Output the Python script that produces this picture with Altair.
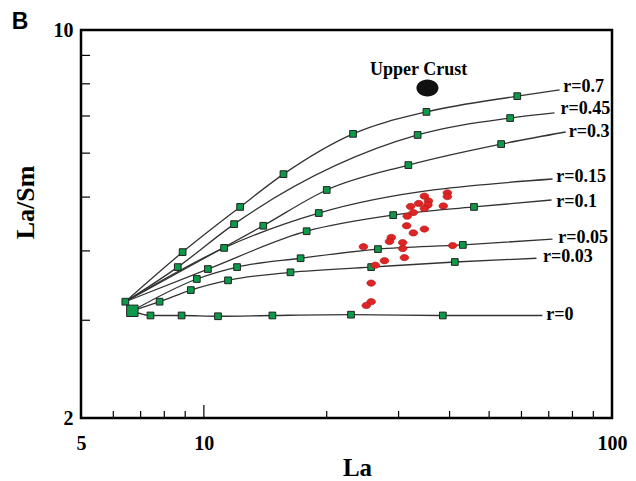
import altair as alt
import pandas as pd

# ---------------- data ----------------
curves = ["r=0.7", "r=0.45", "r=0.3", "r=0.15", "r=0.1", "r=0.05", "r=0.03", "r=0"]
start_la = [6.42, 6.42, 6.42, 6.42, 6.42, 6.68, 6.68, 6.68]
start_lasm = [3.24, 3.24, 3.24, 3.24, 3.24, 3.12, 3.12, 3.12]
end_la = [74.4, 72.3, 77.0, 71.5, 71.1, 71.5, 65.3, 67.5]
end_lasm = [7.80, 7.09, 6.55, 5.39, 4.94, 4.20, 3.88, 3.06]

sq_la_r07 = [8.87, 12.27, 15.67, 23.2, 35.1, 58.6]
sq_lasm_r07 = [3.98, 4.80, 5.50, 6.50, 7.12, 7.60]
sq_la_r045 = [8.63, 11.86, 33.4, 56.3]
sq_lasm_r045 = [3.74, 4.47, 6.47, 6.94]
sq_la_r03 = [13.98, 20.0, 31.7, 53.5]
sq_lasm_r03 = [4.44, 5.15, 5.71, 6.23]
sq_la_r015 = [11.21, 19.12]
sq_lasm_r015 = [4.05, 4.68]
sq_la_r01 = [10.23, 17.86, 29.1, 45.9]
sq_lasm_r01 = [3.71, 4.34, 4.64, 4.80]
sq_la_r005 = [9.61, 12.06, 17.26, 26.7, 43.1]
sq_lasm_r005 = [3.56, 3.74, 3.88, 4.03, 4.10]
sq_la_r003 = [7.79, 9.29, 11.46, 16.3, 25.7, 41.2]
sq_lasm_r003 = [3.24, 3.40, 3.54, 3.66, 3.74, 3.82]
sq_la_r0 = [7.40, 8.82, 10.83, 14.72, 22.94, 38.5]
sq_lasm_r0 = [3.06, 3.06, 3.05, 3.06, 3.07, 3.06]

# curve label anchors (left edge of the text)
label_la = [76.0, 74.8, 78.3, 73.0, 73.0, 73.8, 67.8, 69.0]
label_lasm = [7.90, 7.21, 6.56, 5.43, 4.90, 4.22, 3.90, 3.07]

# common starting compositions
src_small_la, src_small_lasm = 6.42, 3.24
src_big_la, src_big_lasm = 6.68, 3.12

# samples (red)
sample_la = [39.5, 39.5, 34.7, 35.5, 33.6, 35.4, 32.1, 34.7, 38.6, 32.6, 31.5, 31.4,
             34.7, 32.6, 28.8, 28.5, 30.7, 30.7, 24.6, 40.7, 31.0, 27.7, 26.3, 25.7,
             25.7, 25.0]
sample_lasm = [5.09, 5.01, 5.02, 4.92, 4.87, 4.84, 4.81, 4.77, 4.82, 4.69, 4.62, 4.44,
               4.38, 4.31, 4.23, 4.16, 4.14, 4.04, 4.07, 4.09, 3.89, 3.84, 3.77, 3.50,
               3.24, 3.19]

# upper crust
uc_la = [35.3]
uc_lasm = [7.86]
uc_text_la = [33.6]
uc_text_lasm = [8.30]

x_minor_ticks = [6, 7, 8, 9, 20, 30, 40, 50, 60, 70, 80, 90]
x_major_ticks = [10]
y_ticks = [3, 4, 5, 6, 7, 8, 9]
x_labels = [5, 10, 100]
y_labels = [2, 10]

# ---------------- tables ----------------
sq_la = [sq_la_r07, sq_la_r045, sq_la_r03, sq_la_r015, sq_la_r01, sq_la_r005, sq_la_r003, sq_la_r0]
sq_lasm = [sq_lasm_r07, sq_lasm_r045, sq_lasm_r03, sq_lasm_r015, sq_lasm_r01, sq_lasm_r005,
           sq_lasm_r003, sq_lasm_r0]

line_rows, sq_rows = [], []
for i, c in enumerate(curves):
    xs = [start_la[i]] + sq_la[i] + [end_la[i]]
    ys = [start_lasm[i]] + sq_lasm[i] + [end_lasm[i]]
    for k, (a, b) in enumerate(zip(xs, ys)):
        line_rows.append({"curve": c, "o": k, "la": a, "lasm": b})
    for a, b in zip(sq_la[i], sq_lasm[i]):
        sq_rows.append({"curve": c, "la": a, "lasm": b})
sq_rows.append({"curve": "src", "la": src_small_la, "lasm": src_small_lasm})

lines_df = pd.DataFrame(line_rows)
sq_df = pd.DataFrame(sq_rows)
big_df = pd.DataFrame({"la": [src_big_la], "lasm": [src_big_lasm]})
lab_df = pd.DataFrame({"la": label_la, "lasm": label_lasm, "t": curves})
samp_df = pd.DataFrame({"la": sample_la, "lasm": sample_lasm})
uc_df = pd.DataFrame({"la": uc_la, "lasm": uc_lasm})
uct_df = pd.DataFrame({"la": uc_text_la, "lasm": uc_text_lasm, "t": ["Upper Crust"]})

xs_ = alt.Scale(type="log", domain=[5, 100], nice=False)
ys_ = alt.Scale(type="log", domain=[2, 10], nice=False)
SERIF = "Liberation Serif"

x_axis = alt.Axis(values=x_labels, format="d", ticks=False, domain=False, grid=False,
                  labelFont=SERIF, labelFontWeight="bold", labelFontSize=20,
                  labelPadding=15, labelColor="black", labelOverlap=False,
                  labelFlush=False,
                  title="La", titleFont=SERIF, titleFontWeight="bold", titleFontSize=25,
                  titleColor="black", titleX=276, titleY=57, titleBaseline="alphabetic",
                  titleAlign="center")
y_axis = alt.Axis(values=y_labels, format="d", ticks=False, domain=False, grid=False,
                  labelFont=SERIF, labelFontWeight="bold", labelFontSize=20,
                  labelPadding=8, labelColor="black", labelOverlap=False,
                  labelFlush=False,
                  title="La/Sm", titleFont=SERIF, titleFontWeight="bold", titleFontSize=26,
                  titleColor="black", titleX=-48, titleY=172, titleBaseline="alphabetic",
                  titleAlign="center", titleAngle=270)


def X(f):
    return alt.X(f, type="quantitative", scale=xs_, axis=x_axis)


def Y(f):
    return alt.Y(f, type="quantitative", scale=ys_, axis=y_axis)


lines = alt.Chart(lines_df).mark_line(color="#333333", strokeWidth=1.3,
                                      interpolate="monotone").encode(
    x=X("la"), y=Y("lasm"), detail="curve:N", order="o:Q",
)

squares = alt.Chart(sq_df).mark_square(size=45, fill="#0c9a4a", stroke="#222222",
                                       strokeWidth=1, opacity=1).encode(
    x=X("la"), y=Y("lasm"),
)

big = alt.Chart(big_df).mark_square(size=130, fill="#0c9a4a", stroke="#222222",
                                    strokeWidth=1, opacity=1).encode(
    x=X("la"), y=Y("lasm"),
)

ELL = "M-1,0A1,0.72,0,1,1,1,0A1,0.72,0,1,1,-1,0Z"
samples = alt.Chart(samp_df).mark_point(shape=ELL, size=76, filled=True, fill="#e02424",
                                        stroke="#a81818", strokeWidth=0.6,
                                        opacity=1).encode(
    x=X("la"), y=Y("lasm"),
)

UCELL = "M-1,0A1,0.77,0,1,1,1,0A1,0.77,0,1,1,-1,0Z"
uc = alt.Chart(uc_df).mark_point(shape=UCELL, size=484, filled=True, fill="#111111",
                                  opacity=1).encode(
    x=X("la"), y=Y("lasm"),
)

uc_text = alt.Chart(uct_df).mark_text(font=SERIF, fontWeight="bold", fontSize=18,
                                      color="black", align="center",
                                      baseline="alphabetic").encode(
    x=X("la"), y=Y("lasm"), text="t:N",
)

labels = alt.Chart(lab_df).mark_text(font=SERIF, fontWeight="bold", fontSize=18,
                                     color="black", align="left",
                                     baseline="middle").encode(
    x=X("la"), y=Y("lasm"), text="t:N",
)

xminor = alt.Chart(pd.DataFrame({"la": x_minor_ticks})).mark_rule(
    color="black", strokeWidth=1.2).encode(
    x=X("la"), y=alt.value(388), y2=alt.value(381),
)
xmajor = alt.Chart(pd.DataFrame({"la": x_major_ticks})).mark_rule(
    color="black", strokeWidth=1.2).encode(
    x=X("la"), y=alt.value(388), y2=alt.value(375),
)
yt = alt.Chart(pd.DataFrame({"lasm": y_ticks})).mark_rule(
    color="black", strokeWidth=1.2).encode(
    y=Y("lasm"), x=alt.value(0), x2=alt.value(9),
)

panel = alt.Chart(pd.DataFrame({"t": ["B"]})).mark_text(
    font="Liberation Sans", fontWeight="bold", fontSize=23, color="black",
    align="center", baseline="alphabetic").encode(
    x=alt.value(-61), y=alt.value(-1), text="t:N")

chart = alt.layer(lines, squares, big, samples, uc, uc_text, labels, xminor, xmajor, yt,
                  panel).properties(
    width=531, height=388,
    autosize=alt.AutoSizeParams(type="none"),
    padding={"left": 81, "top": 30, "right": 24, "bottom": 63},
    background="white",
).configure_view(stroke="black", strokeWidth=2.5)

chart.save("out.html", embed_options={"renderer": "svg", "actions": False})
